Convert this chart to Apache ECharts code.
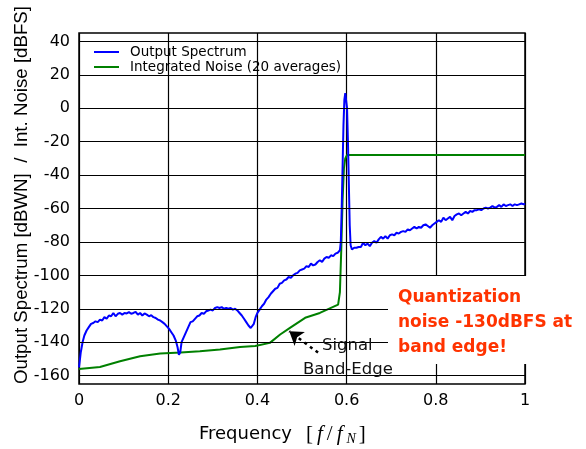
<!DOCTYPE html>
<html>
<head>
<meta charset="utf-8">
<script src="https://cdn.jsdelivr.net/npm/echarts@6/dist/echarts.min.js"></script>
<style>
  html, body { margin: 0; padding: 0; background: #fff; }
  #main { width: 586px; height: 449px; }
</style>
</head>
<body>
<div id="main"></div>
<script>
// output spectrum (blue)
const freqBlue = [
  0, 0.004, 0.008, 0.012, 0.017, 0.022, 0.027, 0.032, 0.037, 0.042, 0.047, 0.052, 0.057, 0.062, 0.067, 0.072,
  0.077, 0.082, 0.087, 0.092, 0.097, 0.102, 0.107, 0.112, 0.117, 0.122, 0.127, 0.132, 0.137, 0.142, 0.147, 0.152,
  0.157, 0.162, 0.167, 0.172, 0.177, 0.182, 0.187, 0.192, 0.197, 0.202, 0.207, 0.212, 0.217, 0.221, 0.224, 0.227,
  0.230, 0.235, 0.240, 0.245, 0.250, 0.255, 0.260, 0.265, 0.270, 0.275, 0.280, 0.285, 0.290, 0.295, 0.300, 0.305,
  0.310, 0.315, 0.320, 0.325, 0.330, 0.335, 0.340, 0.345, 0.350, 0.355, 0.360, 0.365, 0.370, 0.375, 0.380, 0.385,
  0.388, 0.392, 0.396, 0.400, 0.405, 0.410, 0.415, 0.420, 0.425, 0.430, 0.435, 0.440, 0.445, 0.450, 0.455, 0.460,
  0.465, 0.470, 0.475, 0.480, 0.485, 0.490, 0.495, 0.500, 0.505, 0.510, 0.515, 0.520, 0.525, 0.530, 0.535, 0.540,
  0.545, 0.550, 0.555, 0.560, 0.565, 0.570, 0.575, 0.580, 0.585, 0.587, 0.589, 0.591, 0.593, 0.595, 0.597, 0.599,
  0.601, 0.603, 0.605, 0.607, 0.609, 0.612, 0.617, 0.622, 0.627, 0.632, 0.637, 0.642, 0.647, 0.652, 0.657, 0.662,
  0.667, 0.672, 0.677, 0.682, 0.687, 0.692, 0.697, 0.702, 0.707, 0.712, 0.717, 0.722, 0.727, 0.732, 0.737, 0.742,
  0.747, 0.752, 0.757, 0.762, 0.767, 0.772, 0.777, 0.782, 0.787, 0.792, 0.797, 0.802, 0.807, 0.812, 0.817, 0.822,
  0.827, 0.832, 0.837, 0.842, 0.847, 0.852, 0.857, 0.862, 0.867, 0.872, 0.877, 0.882, 0.887, 0.892, 0.897, 0.902,
  0.907, 0.912, 0.917, 0.922, 0.927, 0.932, 0.937, 0.942, 0.947, 0.952, 0.957, 0.962, 0.967, 0.972, 0.977, 0.982,
  0.987, 0.992, 0.997, 1.0
]
const spectrumDb = [
  -155, -146, -140, -136, -133, -131, -129, -128.5, -127.5, -128, -126.5, -127, -125, -126, -124, -124.5,
  -122.5, -124.5, -123, -122.5, -123.5, -122.5, -122.8, -122, -123, -122.5, -121.8, -123.5, -122.5, -124, -122.8, -123.5,
  -124.5, -123.8, -125, -125.5, -126.5, -127, -128, -129, -130.5, -132, -134, -136, -139, -143, -147.5, -146,
  -140, -137, -134, -131, -128, -127.5, -126, -124.5, -124, -122.5, -123, -121.5, -121, -120.5, -121, -119.5,
  -119, -119.5, -119, -120, -119.5, -120, -119.5, -120.5, -120, -121, -122.5, -124, -126, -128, -130, -131.5,
  -132, -129, -125, -122.5, -120.5, -118.5, -117, -114.5, -113, -111, -109.5, -108, -107.5, -105, -104.5, -103,
  -102.5, -101, -101.5, -100, -99, -98.5, -97, -96.5, -96, -94.5, -95, -93, -94, -93.5, -92, -91,
  -92, -90, -89, -89.5, -88, -88.5, -87, -86.5, -85, -80, -60, -35, -10, 5, 9, 8,
  0, -20, -45, -70, -82, -84.5, -83.5, -83.5, -83, -83, -80.5, -82, -81, -82.5, -80.5, -79.5,
  -80.5, -78.5, -77, -78, -76.5, -78, -76, -75.5, -76, -74.5, -75, -74, -73.5, -74, -72.5, -73,
  -72, -71, -72, -71, -71.5, -70, -69.5, -70.5, -71.5, -70, -69, -68, -67, -68, -65.5, -67,
  -66, -65, -67, -64.5, -63.5, -63, -64, -63, -62, -63, -61.5, -62, -61, -61, -60.5, -61,
  -60, -59.5, -60, -59.5, -58.5, -59.5, -59, -58, -59, -57.5, -58.5, -58, -57.5, -58.5, -57.5, -58,
  -57.5, -57, -57.5, -57
]

// integrated noise (green)
const freqGreen = [0, 0.047, 0.092, 0.137, 0.182, 0.228, 0.271, 0.316, 0.361, 0.395, 0.428, 0.451, 0.473,
  0.507, 0.540, 0.581, 0.585, 0.588, 0.591, 0.594, 0.597, 0.601, 0.7, 0.8, 0.9, 1.0]
const noiseDb = [-156, -154.8, -151.4, -148.4, -146.8, -146.2, -145.4, -144.4, -142.8, -142.3, -140.4, -135.4, -131.4,
  -125.4, -122.5, -117.5, -110, -85, -55, -36, -30, -28, -28, -28, -28, -28]

const yTicks = [-160, -140, -120, -100, -80, -60, -40, -20, 0, 20, 40]

const blueData = freqBlue.map((f, i) => [f, spectrumDb[i]])
const greenData = freqGreen.map((f, i) => [f, noiseDb[i]])

const myChart = echarts.init(document.getElementById('main'))
myChart.setOption({
  animation: false,
  grid: {
    left: 79, right: 61, top: 33, bottom: 65,
    show: true, borderColor: '#000', borderWidth: 1.5, backgroundColor: '#fff'
  },
  legend: {
    orient: 'vertical',
    left: 94,
    top: 45,
    padding: 0,
    itemWidth: 25,
    itemHeight: 2,
    itemGap: 1,
    icon: 'rect',
    data: ['Output Spectrum', 'Integrated Noise (20 averages)'],
    textStyle: { fontFamily: 'DejaVu Sans', fontSize: 13.5, color: '#000', lineHeight: 13, padding: [0, 0, 0, 6] }
  },
  xAxis: {
    type: 'value',
    min: 0, max: 1, interval: 0.2,
    axisLine: { show: false },
    axisTick: { show: false },
    splitLine: { show: true, lineStyle: { color: '#000', width: 1.2 } },
    axisLabel: { fontFamily: 'DejaVu Sans', fontSize: 16, color: '#000', margin: 9 }
  },
  yAxis: {
    type: 'value',
    min: -165, max: 45,
    axisLine: { show: false },
    axisTick: { show: false },
    splitLine: { show: false },
    axisLabel: { customValues: yTicks, fontFamily: 'DejaVu Sans', fontSize: 16, color: '#000', margin: 9 }
  },
  series: [
    {
      // horizontal grid lines
      type: 'line',
      data: [],
      silent: true,
      markLine: {
        silent: true,
        symbol: 'none',
        label: { show: false },
        lineStyle: { color: '#000', type: 'solid', width: 1.2 },
        data: yTicks.map(v => ({ yAxis: v }))
      }
    },
    {
      name: 'Integrated Noise (20 averages)',
      type: 'line',
      data: greenData,
      showSymbol: false,
      color: '#008000',
      lineStyle: { width: 2, color: '#008000' },
      markLine: {
        silent: true,
        symbol: ['none', 'arrow'],
        symbolSize: 13,
        label: { show: false },
        lineStyle: { color: '#000', type: [3, 4], width: 2.5 },
        data: [[{ coord: [0.536, -146.2] }, { coord: [0.4715, -133.5] }]]
      }
    },
    {
      name: 'Output Spectrum',
      type: 'line',
      data: blueData,
      showSymbol: false,
      color: '#0000ff',
      lineStyle: { width: 2, color: '#0000ff' }
    }
  ],
  graphic: [
    {
      type: 'text',
      x: 22, y: 195,
      rotation: Math.PI / 2,
      style: {
        text: 'Output Spectrum [dBWN]  /  Int. Noise [dBFS]',
        fontFamily: 'Liberation Sans', fontSize: 18.7, fill: '#000',
        align: 'center', verticalAlign: 'middle'
      }
    },
    {
      type: 'text',
      x: 199, y: 434,
      style: {
        text: '{a|Frequency}{b|[}{i|f}{b|/}{i|f}{s|N}{c|]}',
        verticalAlign: 'middle',
        rich: {
          a: { fontFamily: 'DejaVu Sans', fontSize: 18, fill: '#000', padding: [0, 14, 0, 0] },
          b: { fontFamily: 'Liberation Serif', fontSize: 21, fill: '#000', padding: [0, 4, 0, 0] },
          c: { fontFamily: 'Liberation Serif', fontSize: 21, fill: '#000', padding: [0, 0, 0, 3] },
          i: { fontFamily: 'Liberation Serif', fontStyle: 'italic', fontSize: 21, fill: '#000', padding: [0, 4, 0, 0] },
          s: { fontFamily: 'Liberation Serif', fontStyle: 'italic', fontSize: 14, fill: '#000', padding: [10, 0, 0, 0] }
        }
      }
    },
    {
      type: 'text',
      z: 100,
      x: 388, y: 276,
      style: {
        text: 'Quantization\nnoise -130dBFS at\nband edge!',
        fontFamily: 'DejaVu Sans', fontWeight: 'bold', fontSize: 17, lineHeight: 25,
        fill: '#ff3300', backgroundColor: '#fff',
        padding: [9, 20, 4, 10]
      }
    },
    {
      type: 'text',
      z: 100,
      x: 322, y: 346,
      style: { text: 'Signal', fontFamily: 'DejaVu Sans', fontSize: 16.5, fill: '#111', verticalAlign: 'middle' }
    },
    {
      type: 'text',
      z: 100,
      x: 303, y: 370,
      style: { text: 'Band-Edge', fontFamily: 'DejaVu Sans', fontSize: 16.5, fill: '#111', verticalAlign: 'middle' }
    }
  ]
})
</script>
</body>
</html>
